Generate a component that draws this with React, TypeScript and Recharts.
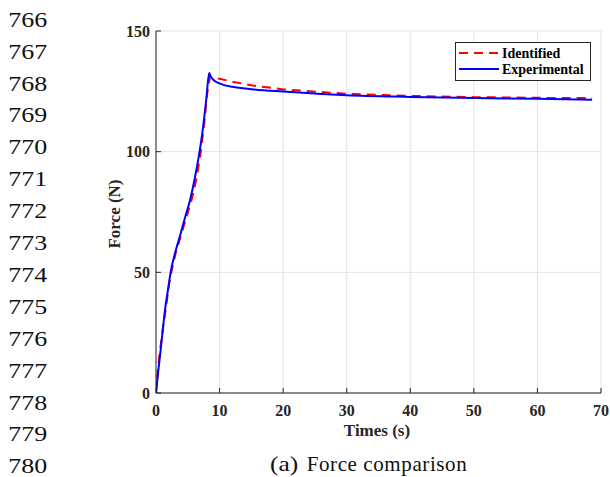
import React from 'react';
import { LineChart, Line, XAxis, YAxis, CartesianGrid, Legend } from 'recharts';

const xTicks = [0, 10, 20, 30, 40, 50, 60, 70];
const yTicks = [0, 50, 100, 150];
const seriesNames = ['Identified', 'Experimental'];

const expTime = [0, 0.35, 0.74, 1.1, 1.42, 1.9, 2.3, 3.0, 3.9, 4.6, 5.37, 6.1, 6.85, 7.4, 7.9, 8.37, 8.6, 8.9, 9.3, 9.8, 10.5, 12, 15, 20, 25, 30, 40, 50, 60, 68.6];
const expForce = [0, 9, 18, 27, 34.5, 43, 50, 58, 66.3, 73, 80.1, 89, 100, 110, 121.5, 132.6, 131.2, 130.1, 129.2, 128.5, 127.8, 126.9, 125.9, 124.9, 124.1, 123.4, 122.7, 122.2, 121.9, 121.5];

const idTime = [0, 0.3, 0.7, 1.1, 1.5, 2.0, 2.4, 3.1, 4.0, 4.8, 5.6, 6.3, 7.0, 7.6, 8.05, 8.5, 9.0, 10, 12, 15, 20, 22.7, 30, 40, 50, 60, 68.6];
const idForce = [0, 10, 19, 27, 34, 44, 50, 58, 66, 73, 80, 88, 99, 112, 124, 131.2, 130.8, 130.2, 129.0, 127.5, 125.8, 125.3, 124.0, 123.1, 122.6, 122.3, 122.2];

const lineNumbers = [766, 767, 768, 769, 770, 771, 772, 773, 774, 775, 776, 777, 778, 779, 780];

const expData = expTime.map((t, i) => ({ t, f: expForce[i] }));
const idData = idTime.map((t, i) => ({ t, f: idForce[i] }));

const AXIS = '#262626';
const SERIF = '"Liberation Serif", "Times New Roman", serif';
const tickFont = { fontFamily: SERIF, fontWeight: 700, fontSize: 16, fill: AXIS };

const BottomTick = (props: any) => {
  const { x, y, payload } = props;
  const axisY = y - 17;
  return (
    <g>
      <line x1={x} x2={x} y1={axisY} y2={axisY - 5} stroke={AXIS} strokeWidth={1} />
      <text x={x} y={y} dy="0.35em" textAnchor="middle" {...tickFont}>{payload.value}</text>
    </g>
  );
};

const LeftTick = (props: any) => {
  const { x, y, payload } = props;
  const axisX = x + 6;
  return (
    <g>
      <line x1={axisX} x2={axisX + 5} y1={y} y2={y} stroke={AXIS} strokeWidth={1} />
      <text x={x} y={y} dy="0.35em" textAnchor="end" {...tickFont}>{payload.value}</text>
    </g>
  );
};

const TopTick = (props: any) => {
  const { x, y } = props;
  return <line x1={x} x2={x} y1={y} y2={y + 5} stroke={AXIS} strokeWidth={1} />;
};

const RightTick = (props: any) => {
  const { x, y } = props;
  return <line x1={x} x2={x - 5} y1={y} y2={y} stroke={AXIS} strokeWidth={1} />;
};

const LegendBox = (props: any) => {
  const items = [...(props.payload || [])].sort(
    (a: any, b: any) => seriesNames.indexOf(a.value) - seriesNames.indexOf(b.value)
  );
  return (
    <svg width={137} height={40} style={{ display: 'block' }}>
      <rect x={0.5} y={0.5} width={135} height={38} fill="#ffffff" stroke={AXIS} strokeWidth={1} />
      {items.map((item: any, i: number) => {
        const yy = 11 + i * 16;
        return (
          <g key={i}>
            <line x1={4} x2={44} y1={yy} y2={yy} stroke={item.color} strokeWidth={2}
              strokeDasharray={item.payload && item.payload.strokeDasharray ? item.payload.strokeDasharray : undefined} />
            <text x={47} y={yy} dy="0.35em" fontFamily={SERIF} fontWeight={700} fontSize={14} fill="#000">{item.value}</text>
          </g>
        );
      })}
    </svg>
  );
};

export default function App() {
  return (
    <div style={{ position: 'absolute', left: 0, top: 0, width: 610, height: 477, background: '#ffffff' }}>
      <LineChart width={610} height={477} margin={{ top: 31, right: 9, left: 100, bottom: 54 }}>
        <CartesianGrid stroke="#e3e3e3" strokeWidth={1} />
        <XAxis dataKey="t" type="number" domain={[0, 70]} ticks={xTicks} interval={0} height={30}
          allowDataOverflow tickSize={0} tickMargin={17} tickLine={false} tick={<BottomTick />}
          axisLine={{ stroke: AXIS, strokeWidth: 1 }} />
        <XAxis xAxisId="top" orientation="top" type="number" domain={[0, 70]} ticks={xTicks} interval={0} height={0}
          tickSize={0} tickMargin={0} tickLine={false} tick={<TopTick />}
          axisLine={{ stroke: AXIS, strokeWidth: 1 }} />
        <YAxis type="number" domain={[0, 150]} ticks={yTicks} interval={0} width={56}
          tickSize={0} tickMargin={6} tickLine={false} tick={<LeftTick />}
          axisLine={{ stroke: AXIS, strokeWidth: 1 }} />
        <YAxis yAxisId="right" orientation="right" type="number" domain={[0, 150]} ticks={yTicks} interval={0} width={0}
          tickSize={0} tickMargin={0} tickLine={false} tick={<RightTick />}
          axisLine={{ stroke: AXIS, strokeWidth: 1 }} />
        <Line data={idData} dataKey="f" name="Identified" type="linear" stroke="#ff0000" strokeWidth={2}
          strokeDasharray="9 6" dot={false} activeDot={false} isAnimationActive={false} />
        <Line data={expData} dataKey="f" name="Experimental" type="monotone" stroke="#0000ff" strokeWidth={2}
          dot={false} activeDot={false} isAnimationActive={false} />
        <Legend layout="horizontal" verticalAlign="middle" align="center" content={<LegendBox />}
          wrapperStyle={{ position: 'absolute', left: 455, top: 42, width: 137, height: 40 }} />
      </LineChart>
      <svg width={610} height={477} style={{ position: 'absolute', left: 0, top: 0, pointerEvents: 'none' }}>
        {lineNumbers.map((n, i) => (
          <text key={n} x={8.3} y={26.7 + 31.9 * i} textLength={39} lengthAdjust="spacingAndGlyphs"
            fontFamily={SERIF} fontSize={22} fill="#111">{n}</text>
        ))}
        <text x={114} y={214} transform="rotate(-90 114 214)" textAnchor="middle" dy="0.35em"
          fontFamily={SERIF} fontWeight={700} fontSize={17} fill={AXIS}>Force (N)</text>
        <text x={377} y={430} textAnchor="middle" dy="0.35em"
          fontFamily={SERIF} fontWeight={700} fontSize={17} fill={AXIS}>Times (s)</text>
        <text x={270} y={470.5} textLength={28.3} lengthAdjust="spacingAndGlyphs"
          fontFamily={SERIF} fontSize={21} fill="#111">(a)</text>
        <text x={306.7} y={470.5} textLength={160} lengthAdjust="spacing"
          fontFamily={SERIF} fontSize={21} fill="#111">Force comparison</text>
      </svg>
    </div>
  );
}
